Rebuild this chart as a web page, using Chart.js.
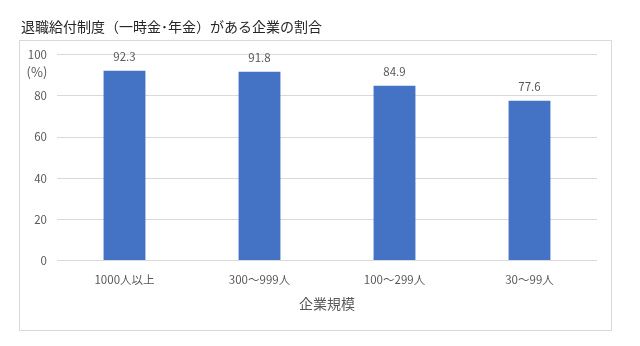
<!DOCTYPE html>
<html>
<head>
<meta charset="utf-8">
<script src="https://cdn.jsdelivr.net/npm/chart.js@4.4.1/dist/chart.umd.min.js"></script>
<style>
  html, body { margin: 0; padding: 0; background: #fff; }
  #wrap { width: 640px; height: 346px; }
</style>
</head>
<body>
<div id="wrap"><canvas id="chart"></canvas></div>
<script>
// データ
const categories = ['1000人以上', '300～999人', '100～299人', '30～99人'];
const values = [92.3, 91.8, 84.9, 77.6];
const yTicks = [0, 20, 40, 60, 80, 100];

const FONT = "'Noto Sans CJK JP', 'Noto Sans', sans-serif";
const GRAY = '#595959';

// 外枠・(%)・数値ラベル
const extras = {
  id: 'extras',
  beforeDraw(chart) {
    const ctx = chart.ctx;
    ctx.save();
    ctx.strokeStyle = '#d9d9d9';
    ctx.lineWidth = 1;
    ctx.strokeRect(19.5, 40.5, 592, 290);
    ctx.restore();
  },
  afterDatasetsDraw(chart) {
    const ctx = chart.ctx;
    const y = chart.scales.y;
    ctx.save();
    ctx.fillStyle = GRAY;
    ctx.textAlign = 'center';
    ctx.textBaseline = 'middle';
    ctx.font = '13px ' + FONT;
    ctx.fillText('(%)', 37, y.getPixelForValue(100) + 17);
    ctx.font = '11.5px ' + FONT;
    const meta = chart.getDatasetMeta(0);
    meta.data.forEach((bar, i) => {
      ctx.fillText(values[i].toFixed(1), bar.x, bar.y - 14);
    });
    ctx.restore();
  }
};

new Chart(document.getElementById('chart'), {
  type: 'bar',
  data: {
    labels: categories,
    datasets: [{
      data: values,
      backgroundColor: '#4472c4',
      barPercentage: 0.31,
      categoryPercentage: 1
    }]
  },
  options: {
    responsive: true,
    maintainAspectRatio: false,
    animation: false,
    layout: { padding: { left: 21, right: 43, top: 18, bottom: 34 } },
    plugins: {
      legend: { display: false },
      tooltip: { enabled: false },
      title: {
        display: true,
        text: '退職給付制度（一時金･年金）がある企業の割合',
        align: 'start',
        color: '#262626',
        font: { family: FONT, size: 14, weight: 'normal' },
        padding: { top: 0, bottom: 20 }
      }
    },
    scales: {
      x: {
        grid: { display: false, drawTicks: false },
        border: { display: false },
        ticks: { color: GRAY, font: { family: FONT, size: 11.5 }, padding: 12 },
        title: {
          display: true,
          text: '企業規模',
          color: GRAY,
          font: { family: FONT, size: 14 },
          padding: { top: -3, bottom: 0 }
        }
      },
      y: {
        min: 0,
        max: 100,
        afterBuildTicks(scale) { scale.ticks = yTicks.map(v => ({ value: v })); },
        afterFit(scale) { scale.width = 36; },
        grid: { color: '#d9d9d9', drawTicks: false },
        border: { display: false },
        ticks: { color: GRAY, font: { family: FONT, size: 11.5 }, padding: 10 }
      }
    }
  },
  plugins: [extras]
});
</script>
</body>
</html>
